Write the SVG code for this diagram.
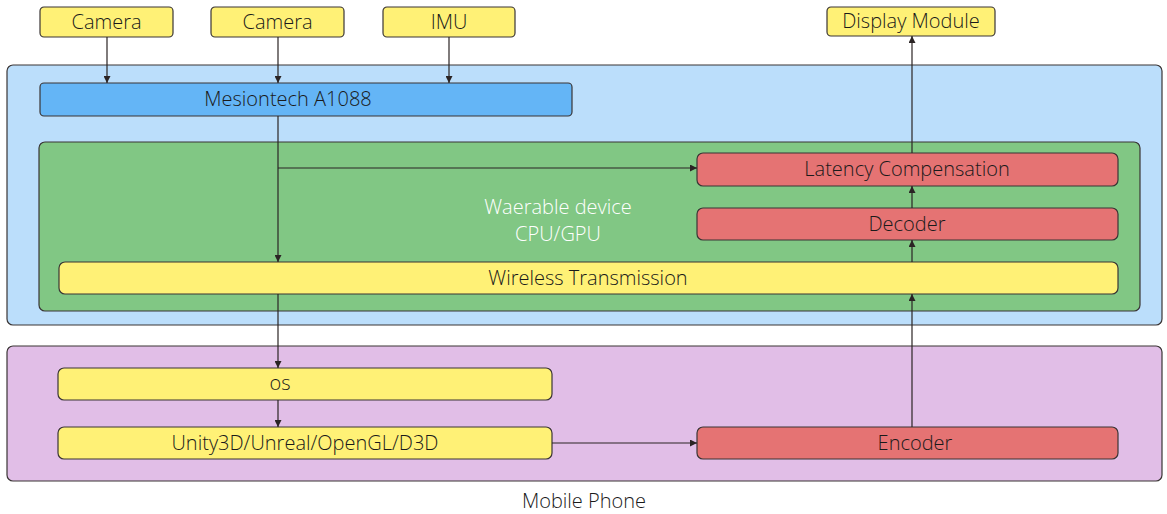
<svg xmlns="http://www.w3.org/2000/svg" width="1167" height="514" viewBox="0 0 1167 514">
<defs>
<marker id="ah" viewBox="0 0 10 10" refX="10" refY="5" markerWidth="7" markerHeight="7" markerUnits="userSpaceOnUse" orient="auto">
<path d="M0,0 L10,5 L0,10 z" fill="#2b2424"/>
</marker>
<style>
.box{stroke:#3a3535;stroke-width:1.2}
.y{fill:#fff176}
.r{fill:#e57373}
.t{font-family:"Open Sans","Liberation Sans",Arial,sans-serif;font-size:20px;font-weight:300;fill:#1a1a1a;text-anchor:middle;dominant-baseline:central}
.w{fill:#ffffff}
.c{fill:none;stroke:#2b2424;stroke-width:1.2;marker-end:url(#ah)}
</style>
</defs>
<rect width="1167" height="514" fill="#ffffff"/>
<g id="mobile-phone">
<rect class="box" x="7" y="346" width="1155" height="135" rx="6" fill="#e1bee7"/>
<text class="t" x="584" y="500">Mobile Phone</text>
</g>
<g id="wearable-outer">
<rect class="box" x="7" y="65" width="1155" height="260" rx="6" fill="#bbdefb"/>
</g>
<g id="wearable-cpu">
<rect class="box" x="39" y="142" width="1101" height="169" rx="6" fill="#81c784"/>
<text class="t w" x="558" y="206"><tspan x="558" y="206">Waerable device</tspan><tspan x="558" y="233">CPU/GPU</tspan></text>
</g>
<g id="camera1"><rect class="box y" x="40" y="7" width="133" height="30" rx="4"/><text class="t" x="106.5" y="21">Camera</text></g>
<g id="camera2"><rect class="box y" x="211" y="7" width="133" height="30" rx="4"/><text class="t" x="277.5" y="21">Camera</text></g>
<g id="imu"><rect class="box y" x="383" y="7" width="132" height="30" rx="4"/><text class="t" x="449" y="21">IMU</text></g>
<g id="display"><rect class="box y" x="827" y="7" width="168" height="29" rx="4"/><text class="t" x="911" y="20.5">Display Module</text></g>
<g id="mesiontech"><rect class="box" x="40" y="83" width="532" height="33" rx="4" fill="#64b5f6"/><text class="t" x="288" y="98.5">Mesiontech A1088</text></g>
<g id="latency"><rect class="box r" x="697" y="153" width="421" height="33" rx="6"/><text class="t" x="907" y="168.5">Latency Compensation</text></g>
<g id="decoder"><rect class="box r" x="697" y="208" width="421" height="32" rx="6"/><text class="t" x="907" y="223">Decoder</text></g>
<g id="wireless"><rect class="box y" x="59" y="262" width="1059" height="32" rx="6"/><text class="t" x="588" y="277">Wireless Transmission</text></g>
<g id="os"><rect class="box y" x="58" y="368" width="494" height="32" rx="6"/><text class="t" x="280" y="382">os</text></g>
<g id="engine"><rect class="box y" x="58" y="427" width="494" height="32" rx="6"/><text class="t" x="305" y="442">Unity3D/Unreal/OpenGL/D3D</text></g>
<g id="encoder"><rect class="box r" x="697" y="427" width="421" height="32" rx="6"/><text class="t" x="915" y="442">Encoder</text></g>
<g id="connectors">
<line class="c" x1="107" y1="37" x2="107" y2="83"/>
<line class="c" x1="278" y1="37" x2="278" y2="83"/>
<line class="c" x1="449" y1="37" x2="449" y2="83"/>
<line class="c" x1="278" y1="116" x2="278" y2="262"/>
<polyline class="c" points="278,168 697,168"/>
<line class="c" x1="278" y1="294" x2="278" y2="368"/>
<line class="c" x1="278" y1="400" x2="278" y2="427"/>
<line class="c" x1="552" y1="443" x2="697" y2="443"/>
<line class="c" x1="912" y1="427" x2="912" y2="294"/>
<line class="c" x1="912" y1="262" x2="912" y2="240"/>
<line class="c" x1="912" y1="208" x2="912" y2="186"/>
<line class="c" x1="912" y1="153" x2="912" y2="36"/>
</g>
</svg>
